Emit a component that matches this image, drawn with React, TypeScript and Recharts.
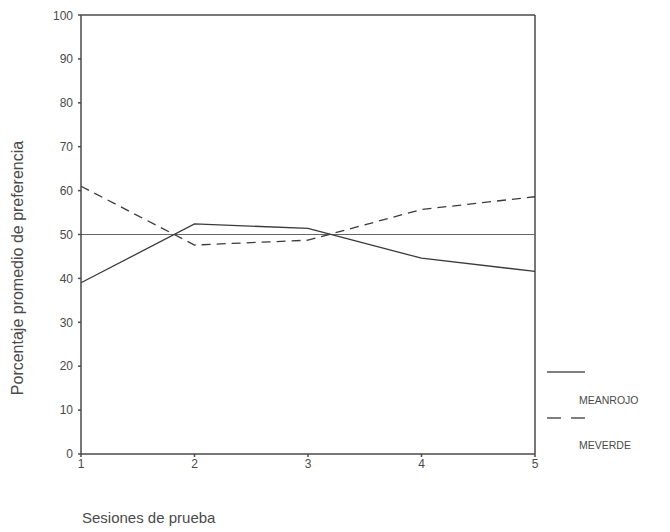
import { LineChart, Line, XAxis, YAxis, ReferenceLine } from "recharts";

const sessions = [1, 2, 3, 4, 5];
const meanRojo = [39, 52.4, 51.4, 44.6, 41.6];
const meVerde = [61, 47.6, 48.7, 55.7, 58.6];
const yTicks = [0, 10, 20, 30, 40, 50, 60, 70, 80, 90, 100];

const data = sessions.map((s, i) => ({
  session: s,
  rojo: meanRojo[i],
  verde: meVerde[i],
}));

const axisColor = "#4a4a4a";
const lineColor = "#3a3a3a";
const textColor = "#4a4a4a";
const font = "'Liberation Sans', Arial, sans-serif";

export default function App() {
  return (
    <div style={{ position: "relative", width: 654, height: 524, fontFamily: font }}>
      <LineChart
        width={654}
        height={516}
        data={data}
        margin={{ top: 7, right: 127, bottom: 54, left: 33 }}
      >
        <XAxis
          dataKey="session"
          type="number"
          domain={[1, 5]}
          ticks={sessions}
          tickSize={3}
          stroke={axisColor}
          strokeWidth={1.5}
          tick={{ fill: textColor, fontSize: 12 }}
          height={16}
          tickMargin={2}
        />
        <YAxis
          domain={[0, 100]}
          ticks={yTicks}
          tickSize={3}
          width={40}
          stroke={axisColor}
          strokeWidth={1.5}
          tick={{ fill: textColor, fontSize: 12 }}
          tickMargin={5}
        />
        <ReferenceLine y={100} stroke={axisColor} strokeWidth={1.5} />
        <ReferenceLine x={5} stroke={axisColor} strokeWidth={1.5} />
        <ReferenceLine y={50} stroke="#666" strokeWidth={1.2} />
        <Line
          dataKey="rojo"
          stroke={lineColor}
          strokeWidth={1.3}
          dot={false}
          isAnimationActive={false}
        />
        <Line
          dataKey="verde"
          stroke={lineColor}
          strokeWidth={1.3}
          strokeDasharray="9 6"
          dot={false}
          isAnimationActive={false}
        />
      </LineChart>
      <div
        style={{
          position: "absolute",
          left: 10,
          top: 260,
          transform: "translate(-50%, -50%) rotate(-90deg)",
          whiteSpace: "nowrap",
          fontSize: 16,
          color: textColor,
        }}
      >
        Porcentaje promedio de preferencia
      </div>
      <div
        style={{
          position: "absolute",
          left: 74,
          top: 501,
          fontSize: 15,
          color: textColor,
          whiteSpace: "nowrap",
        }}
      >
        Sesiones de prueba
      </div>
      <svg
        style={{ position: "absolute", left: 0, top: 0 }}
        width={654}
        height={516}
      >
        <line x1={539} x2={577} y1={364} y2={364} stroke="#555" strokeWidth={1.5} />
        <text x={571} y={396} fontSize={10.5} fill={textColor} fontFamily={font}>
          MEANROJO
        </text>
        <line
          x1={539}
          x2={577}
          y1={410}
          y2={410}
          stroke="#555"
          strokeWidth={1.5}
          strokeDasharray="14 10"
        />
        <text x={571} y={441} fontSize={10.5} fill={textColor} fontFamily={font}>
          MEVERDE
        </text>
      </svg>
    </div>
  );
}
